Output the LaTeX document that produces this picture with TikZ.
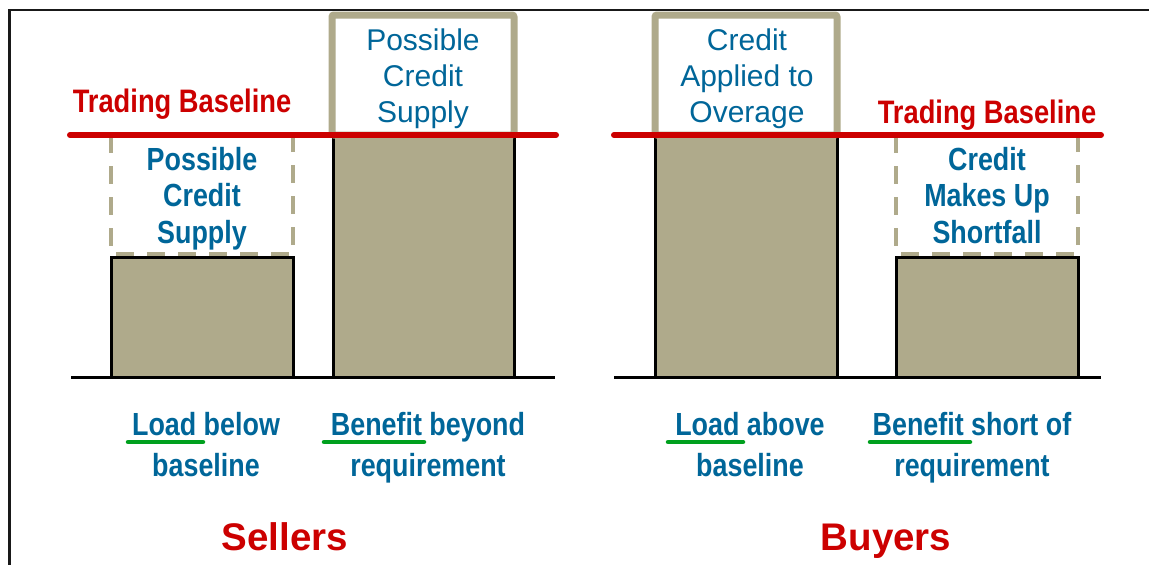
\documentclass[tikz,border=0pt]{standalone}
\usepackage{fontspec}
\setmainfont{Liberation Sans}
\newfontfamily\narrowfont[FakeStretch=0.84]{Liberation Sans}
\definecolor{cblue}{RGB}{0,102,153}
\definecolor{ctan}{RGB}{175,170,139}
\definecolor{cred}{RGB}{204,0,0}
\definecolor{cgreen}{RGB}{0,160,30}
\tikzset{
  bar/.style={fill=ctan, draw=black, line width=3pt},
  dashbox/.style={draw=ctan, line width=4pt, dash pattern=on 18pt off 13pt},
  topbox/.style={draw=ctan, fill=white, line width=7pt, rounded corners=2pt},
  baseline line/.style={draw=cred, line width=6pt, line cap=round},
  axisline/.style={draw=black, line width=3pt},
  uline/.style={draw=cgreen, line width=4.5pt, line cap=round},
  toptext/.style={text=cblue, align=center, inner sep=0pt, anchor=base,
    font=\fontsize{30}{36}\selectfont},
  dashtext/.style={text=cblue, align=center, inner sep=0pt, anchor=base,
    font=\narrowfont\bfseries\fontsize{32}{36.5}\selectfont},
  labeltext/.style={text=cblue, align=center, inner sep=0pt, anchor=base,
    font=\narrowfont\bfseries\fontsize{32}{41}\selectfont},
  tbtext/.style={text=cred, inner sep=0pt, anchor=base,
    font=\narrowfont\bfseries\fontsize{32.5}{36}\selectfont},
  grouptext/.style={text=cred, inner sep=0pt, anchor=base,
    font=\bfseries\fontsize{38.5}{42}\selectfont},
}
\begin{document}
\begin{tikzpicture}[x=1pt,y=-1pt]
\useasboundingbox (0,0) rectangle (1149,565);
% frame
\draw[line width=2.2pt, black!90] (9.5,566) -- (9.5,10) -- (1150,10);
% dashed boxes
\draw[dashbox] (111,135) rectangle (293,254);
\draw[dashbox] (896,135) rectangle (1078,254);
% bars
\draw[bar] (111,257) rectangle (293,377);
\draw[bar] (333,135) rectangle (514,377);
\draw[bar] (655,135) rectangle (837,377);
\draw[bar] (896,257) rectangle (1078,377);
% top boxes
\draw[topbox] (332,15) rectangle (514,135);
\draw[topbox] (655,15) rectangle (837,135);
% trading baselines
\coordinate (bl1) at (70,135);
\coordinate (br1) at (556,135);
\coordinate (bl2) at (614,135);
\coordinate (br2) at (1101,135);
\draw[baseline line] (bl1) -- (br1);
\draw[baseline line] (bl2) -- (br2);
% axes
\coordinate (al1) at (71,377);
\coordinate (ar1) at (555,377);
\coordinate (al2) at (614,377);
\coordinate (ar2) at (1101,377);
\draw[axisline] (al1) -- (ar1);
\draw[axisline] (al2) -- (ar2);
% texts (base anchor = baseline of the last line)
\node[tbtext] (tb1) at (182,112) {Trading Baseline};
\node[tbtext] (tb2) at (987,123) {Trading Baseline};
\node[dashtext] (d1) at (202,243) {Possible\\Credit\\Supply};
\node[dashtext] (d2) at (987,243) {Credit\\Makes Up\\Shortfall};
\node[toptext] (t1) at (423,122) {Possible\\Credit\\Supply};
\node[toptext] (t2) at (747,122) {Credit\\Applied to\\Overage};
\node[labeltext] (l1) at (206,476) {Load below\\baseline};
\node[labeltext] (l2) at (428,476) {Benefit beyond\\requirement};
\node[labeltext] (l3) at (750,476) {Load above\\baseline};
\node[labeltext] (l4) at (972,476) {Benefit short of\\requirement};
\draw[uline] (128,442) -- (203,442);
\draw[uline] (324,442) -- (424,442);
\draw[uline] (668,442) -- (743,442);
\draw[uline] (870,442) -- (970,442);
\node[grouptext] (s) at (285,550) {Sellers};
\node[grouptext] (b) at (886,550) {Buyers};
\end{tikzpicture}
\end{document}
